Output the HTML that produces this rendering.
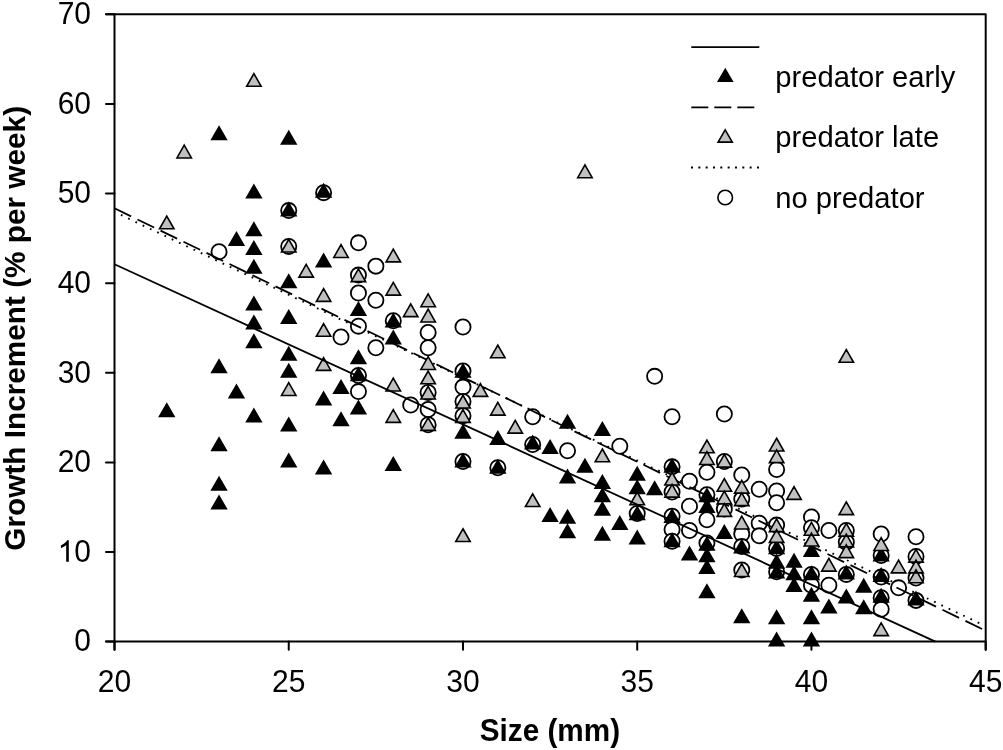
<!DOCTYPE html>
<html><head><meta charset="utf-8"><style>
html,body{margin:0;padding:0;background:#fff;}
svg{display:block;filter:grayscale(1);}
</style></head><body>
<svg width="1003" height="750" viewBox="0 0 1003 750"><rect width="1003" height="750" fill="#fff"/><line x1="114.5" y1="211.9" x2="982.1" y2="624.5" stroke="#000" stroke-width="1.9" stroke-dasharray="1.7 6.34" stroke-dashoffset="0.92"/><g fill="#fff" stroke="#000" stroke-width="1.8"><circle cx="219.04" cy="251.80" r="7.6"/><circle cx="288.74" cy="210.58" r="7.6"/><circle cx="288.74" cy="246.42" r="7.6"/><circle cx="323.59" cy="192.65" r="7.6"/><circle cx="341.01" cy="336.93" r="7.6"/><circle cx="358.44" cy="242.84" r="7.6"/><circle cx="358.44" cy="275.10" r="7.6"/><circle cx="358.44" cy="293.02" r="7.6"/><circle cx="358.44" cy="326.17" r="7.6"/><circle cx="358.44" cy="375.46" r="7.6"/><circle cx="358.44" cy="391.59" r="7.6"/><circle cx="375.86" cy="266.13" r="7.6"/><circle cx="375.86" cy="300.19" r="7.6"/><circle cx="375.86" cy="347.68" r="7.6"/><circle cx="393.28" cy="320.80" r="7.6"/><circle cx="410.71" cy="405.03" r="7.6"/><circle cx="428.13" cy="332.45" r="7.6"/><circle cx="428.13" cy="347.68" r="7.6"/><circle cx="428.13" cy="392.48" r="7.6"/><circle cx="428.13" cy="409.51" r="7.6"/><circle cx="428.13" cy="424.74" r="7.6"/><circle cx="462.98" cy="327.07" r="7.6"/><circle cx="462.98" cy="370.98" r="7.6"/><circle cx="462.98" cy="387.11" r="7.6"/><circle cx="462.98" cy="401.45" r="7.6"/><circle cx="462.98" cy="415.78" r="7.6"/><circle cx="462.98" cy="461.48" r="7.6"/><circle cx="497.83" cy="467.76" r="7.6"/><circle cx="532.68" cy="416.68" r="7.6"/><circle cx="532.68" cy="444.46" r="7.6"/><circle cx="567.52" cy="450.73" r="7.6"/><circle cx="619.80" cy="446.25" r="7.6"/><circle cx="637.22" cy="513.46" r="7.6"/><circle cx="654.64" cy="376.35" r="7.6"/><circle cx="672.07" cy="416.68" r="7.6"/><circle cx="672.07" cy="466.86" r="7.6"/><circle cx="672.07" cy="491.95" r="7.6"/><circle cx="672.07" cy="516.15" r="7.6"/><circle cx="672.07" cy="529.59" r="7.6"/><circle cx="672.07" cy="541.24" r="7.6"/><circle cx="689.49" cy="481.20" r="7.6"/><circle cx="689.49" cy="506.29" r="7.6"/><circle cx="689.49" cy="530.48" r="7.6"/><circle cx="706.92" cy="472.24" r="7.6"/><circle cx="706.92" cy="494.64" r="7.6"/><circle cx="706.92" cy="519.73" r="7.6"/><circle cx="706.92" cy="543.03" r="7.6"/><circle cx="724.34" cy="413.99" r="7.6"/><circle cx="724.34" cy="461.48" r="7.6"/><circle cx="724.34" cy="508.98" r="7.6"/><circle cx="741.76" cy="474.93" r="7.6"/><circle cx="741.76" cy="499.12" r="7.6"/><circle cx="741.76" cy="534.07" r="7.6"/><circle cx="741.76" cy="546.61" r="7.6"/><circle cx="741.76" cy="569.91" r="7.6"/><circle cx="759.19" cy="489.26" r="7.6"/><circle cx="776.61" cy="469.55" r="7.6"/><circle cx="776.61" cy="491.06" r="7.6"/><circle cx="776.61" cy="502.70" r="7.6"/><circle cx="759.19" cy="523.31" r="7.6"/><circle cx="759.19" cy="535.86" r="7.6"/><circle cx="776.61" cy="525.11" r="7.6"/><circle cx="776.61" cy="548.41" r="7.6"/><circle cx="776.61" cy="571.70" r="7.6"/><circle cx="811.46" cy="517.04" r="7.6"/><circle cx="811.46" cy="527.80" r="7.6"/><circle cx="811.46" cy="574.39" r="7.6"/><circle cx="811.46" cy="585.15" r="7.6"/><circle cx="828.88" cy="530.48" r="7.6"/><circle cx="828.88" cy="585.15" r="7.6"/><circle cx="846.31" cy="530.48" r="7.6"/><circle cx="846.31" cy="542.13" r="7.6"/><circle cx="846.31" cy="574.39" r="7.6"/><circle cx="881.16" cy="534.07" r="7.6"/><circle cx="881.16" cy="555.57" r="7.6"/><circle cx="881.16" cy="577.08" r="7.6"/><circle cx="881.16" cy="597.69" r="7.6"/><circle cx="881.16" cy="609.34" r="7.6"/><circle cx="898.58" cy="587.83" r="7.6"/><circle cx="916.00" cy="536.76" r="7.6"/><circle cx="916.00" cy="556.47" r="7.6"/><circle cx="916.00" cy="577.98" r="7.6"/><circle cx="916.00" cy="600.38" r="7.6"/></g><path fill="#000" d="M166.77 402.20L175.43 417.20L158.11 417.20ZM219.04 125.30L227.70 140.30L210.38 140.30ZM219.04 358.29L227.70 373.29L210.38 373.29ZM219.04 436.25L227.70 451.25L210.38 451.25ZM219.04 475.68L227.70 490.68L210.38 490.68ZM219.04 494.50L227.70 509.50L210.38 509.50ZM236.47 231.04L245.13 246.04L227.81 246.04ZM236.47 383.38L245.13 398.38L227.81 398.38ZM253.89 183.55L262.55 198.55L245.23 198.55ZM253.89 221.19L262.55 236.19L245.23 236.19ZM253.89 240.00L262.55 255.00L245.23 255.00ZM253.89 258.82L262.55 273.82L245.23 273.82ZM253.89 295.56L262.55 310.56L245.23 310.56ZM253.89 314.38L262.55 329.38L245.23 329.38ZM253.89 333.20L262.55 348.20L245.23 348.20ZM253.89 407.58L262.55 422.58L245.23 422.58ZM288.74 129.78L297.40 144.78L280.08 144.78ZM288.74 201.47L297.40 216.47L280.08 216.47ZM288.74 273.16L297.40 288.16L280.08 288.16ZM288.74 309.00L297.40 324.00L280.08 324.00ZM288.74 345.74L297.40 360.74L280.08 360.74ZM288.74 362.77L297.40 377.77L280.08 377.77ZM288.74 416.54L297.40 431.54L280.08 431.54ZM288.74 452.38L297.40 467.38L280.08 467.38ZM323.59 182.65L332.25 197.65L314.93 197.65ZM323.59 252.55L332.25 267.55L314.93 267.55ZM323.59 390.55L332.25 405.55L314.93 405.55ZM323.59 459.55L332.25 474.55L314.93 474.55ZM341.01 378.90L349.67 393.90L332.35 393.90ZM341.01 411.16L349.67 426.16L332.35 426.16ZM358.44 300.94L367.10 315.94L349.78 315.94ZM358.44 349.33L367.10 364.33L349.78 364.33ZM358.44 366.35L367.10 381.35L349.78 381.35ZM358.44 399.51L367.10 414.51L349.78 414.51ZM393.28 312.59L401.94 327.59L384.62 327.59ZM393.28 329.61L401.94 344.61L384.62 344.61ZM393.28 455.96L401.94 470.96L384.62 470.96ZM462.98 362.77L471.64 377.77L454.32 377.77ZM462.98 423.70L471.64 438.70L454.32 438.70ZM462.98 452.38L471.64 467.38L454.32 467.38ZM497.83 429.98L506.49 444.98L489.17 444.98ZM497.83 458.65L506.49 473.65L489.17 473.65ZM532.68 434.46L541.34 449.46L524.02 449.46ZM550.10 438.94L558.76 453.94L541.44 453.94ZM550.10 507.04L558.76 522.04L541.44 522.04ZM567.52 413.85L576.18 428.85L558.86 428.85ZM567.52 468.51L576.18 483.51L558.86 483.51ZM567.52 508.83L576.18 523.83L558.86 523.83ZM567.52 523.17L576.18 538.17L558.86 538.17ZM584.95 457.76L593.61 472.76L576.29 472.76ZM602.37 421.02L611.03 436.02L593.71 436.02ZM602.37 473.89L611.03 488.89L593.71 488.89ZM602.37 487.33L611.03 502.33L593.71 502.33ZM602.37 500.77L611.03 515.77L593.71 515.77ZM602.37 525.86L611.03 540.86L593.71 540.86ZM619.80 515.11L628.46 530.11L611.14 530.11ZM637.22 465.82L645.88 480.82L628.56 480.82ZM637.22 479.26L645.88 494.26L628.56 494.26ZM637.22 505.25L645.88 520.25L628.56 520.25ZM637.22 529.44L645.88 544.44L628.56 544.44ZM654.64 480.16L663.30 495.16L645.98 495.16ZM672.07 457.76L680.73 472.76L663.41 472.76ZM672.07 507.94L680.73 522.94L663.41 522.94ZM672.07 532.13L680.73 547.13L663.41 547.13ZM689.49 545.57L698.15 560.57L680.83 560.57ZM706.92 487.33L715.58 502.33L698.26 502.33ZM706.92 498.08L715.58 513.08L698.26 513.08ZM706.92 535.72L715.58 550.72L698.26 550.72ZM706.92 547.37L715.58 562.37L698.26 562.37ZM706.92 559.02L715.58 574.02L698.26 574.02ZM706.92 583.21L715.58 598.21L698.26 598.21ZM724.34 524.07L733.00 539.07L715.68 539.07ZM741.76 538.41L750.42 553.41L733.10 553.41ZM776.61 539.30L785.27 554.30L767.95 554.30ZM776.61 553.64L785.27 568.64L767.95 568.64ZM776.61 563.50L785.27 578.50L767.95 578.50ZM776.61 609.20L785.27 624.20L767.95 624.20ZM776.61 631.60L785.27 646.60L767.95 646.60ZM794.04 552.74L802.70 567.74L785.38 567.74ZM794.04 565.29L802.70 580.29L785.38 580.29ZM794.04 576.94L802.70 591.94L785.38 591.94ZM811.46 541.99L820.12 556.99L802.80 556.99ZM811.46 565.29L820.12 580.29L802.80 580.29ZM811.46 586.80L820.12 601.80L802.80 601.80ZM811.46 609.20L820.12 624.20L802.80 624.20ZM811.46 631.60L820.12 646.60L802.80 646.60ZM828.88 598.44L837.54 613.44L820.22 613.44ZM846.31 564.39L854.97 579.39L837.65 579.39ZM846.31 588.59L854.97 603.59L837.65 603.59ZM863.73 577.83L872.39 592.83L855.07 592.83ZM863.73 599.34L872.39 614.34L855.07 614.34ZM881.16 546.47L889.82 561.47L872.50 561.47ZM881.16 567.08L889.82 582.08L872.50 582.08ZM881.16 587.69L889.82 602.69L872.50 602.69ZM916.00 590.38L924.66 605.38L907.34 605.38ZM741.76 608.30L750.42 623.30L733.10 623.30Z"/><line x1="114.5" y1="208.3" x2="982.1" y2="629.0" stroke="#000" stroke-width="1.8" stroke-dasharray="18.45 7.11"/><path fill="#c0c0c0" stroke="#000" stroke-width="1.6" stroke-linejoin="miter" d="M166.77 216.02L174.00 228.77L159.55 228.77ZM184.20 145.23L191.42 157.98L176.97 157.98ZM253.89 73.54L261.12 86.29L246.67 86.29ZM288.74 239.32L295.97 252.07L281.51 252.07ZM288.74 382.69L295.97 395.44L281.51 395.44ZM306.16 264.41L313.39 277.16L298.94 277.16ZM323.59 288.60L330.81 301.35L316.36 301.35ZM323.59 323.55L330.81 336.30L316.36 336.30ZM323.59 357.60L330.81 370.35L316.36 370.35ZM341.01 244.69L348.24 257.44L333.79 257.44ZM358.44 268.89L365.66 281.64L351.21 281.64ZM393.28 249.17L400.51 261.92L386.06 261.92ZM393.28 282.33L400.51 295.08L386.06 295.08ZM393.28 378.21L400.51 390.96L386.06 390.96ZM393.28 409.58L400.51 422.33L386.06 422.33ZM410.71 303.84L417.93 316.59L403.48 316.59ZM428.13 293.98L435.36 306.73L420.91 306.73ZM428.13 309.21L435.36 321.96L420.91 321.96ZM428.13 356.71L435.36 369.46L420.91 369.46ZM428.13 371.04L435.36 383.79L420.91 383.79ZM428.13 386.28L435.36 399.03L420.91 399.03ZM428.13 417.64L435.36 430.39L420.91 430.39ZM462.98 395.24L470.21 407.99L455.75 407.99ZM462.98 409.58L470.21 422.33L455.75 422.33ZM462.98 528.76L470.21 541.51L455.75 541.51ZM480.40 383.59L487.63 396.34L473.18 396.34ZM497.83 345.06L505.05 357.81L490.60 357.81ZM497.83 402.41L505.05 415.16L490.60 415.16ZM515.25 420.33L522.48 433.08L508.03 433.08ZM532.68 493.81L539.90 506.56L525.45 506.56ZM602.37 449.00L609.60 461.75L595.15 461.75ZM637.22 492.02L644.45 504.77L630.00 504.77ZM672.07 472.30L679.29 485.05L664.84 485.05ZM672.07 484.40L679.29 497.15L664.84 497.15ZM706.92 440.04L714.14 452.79L699.69 452.79ZM706.92 451.69L714.14 464.44L699.69 464.44ZM724.34 454.38L731.57 467.13L717.12 467.13ZM724.34 478.57L731.57 491.32L717.12 491.32ZM724.34 491.12L731.57 503.87L717.12 503.87ZM724.34 503.67L731.57 516.42L717.12 516.42ZM741.76 480.37L748.99 493.12L734.54 493.12ZM741.76 492.91L748.99 505.66L734.54 505.66ZM741.76 516.21L748.99 528.96L734.54 528.96ZM741.76 563.70L748.99 576.45L734.54 576.45ZM776.61 438.25L783.84 451.00L769.39 451.00ZM776.61 449.90L783.84 462.65L769.39 462.65ZM794.04 486.64L801.26 499.39L786.81 499.39ZM776.61 518.90L783.84 531.65L769.39 531.65ZM776.61 529.65L783.84 542.40L769.39 542.40ZM811.46 522.48L818.69 535.23L804.24 535.23ZM811.46 533.24L818.69 545.99L804.24 545.99ZM828.88 558.33L836.11 571.08L821.66 571.08ZM846.31 349.54L853.53 362.29L839.08 362.29ZM846.31 501.87L853.53 514.62L839.08 514.62ZM846.31 523.38L853.53 536.13L839.08 536.13ZM846.31 534.13L853.53 546.88L839.08 546.88ZM846.31 544.89L853.53 557.64L839.08 557.64ZM881.16 537.72L888.38 550.47L873.93 550.47ZM881.16 622.85L888.38 635.60L873.93 635.60ZM898.58 560.12L905.80 572.87L891.35 572.87ZM916.00 549.37L923.23 562.12L908.78 562.12ZM916.00 560.12L923.23 572.87L908.78 572.87ZM916.00 569.98L923.23 582.73L908.78 582.73ZM584.95 164.94L592.17 177.69L577.72 177.69Z"/><line x1="114.5" y1="264.3" x2="935.4" y2="641.6" stroke="#000" stroke-width="1.8"/><g fill="none" stroke="#000" stroke-width="2" stroke-linecap="round" stroke-linejoin="round"><path d="M114.5 14.3V649.8M106 641.6H985.7M106 14.3H985.7V649.8"/><path d="M106 641.60H114.5 M106 551.99H114.5 M106 462.38H114.5 M106 372.77H114.5 M106 283.16H114.5 M106 193.55H114.5 M106 103.94H114.5 M106 14.33H114.5 M114.50 641.6V649.8 M288.74 641.6V649.8 M462.98 641.6V649.8 M637.22 641.6V649.8 M811.46 641.6V649.8 M985.70 641.6V649.8"/></g><g font-family='"Liberation Sans", sans-serif' font-size="30" fill="#000"><text transform="translate(91 651.40) scale(1 1.05)" text-anchor="end">0</text><path transform="translate(57.63 561.79) scale(0.014648 -0.014648)" d="M763 0H583V1147Q518 1085 413 1023Q307 961 223 930V1104Q374 1175 487 1276Q600 1377 647 1472H763Z"/><text transform="translate(74.32 561.79) scale(1 1.05)">0</text><text transform="translate(91 472.18) scale(1 1.05)" text-anchor="end">20</text><text transform="translate(91 382.57) scale(1 1.05)" text-anchor="end">30</text><text transform="translate(91 292.96) scale(1 1.05)" text-anchor="end">40</text><text transform="translate(91 203.35) scale(1 1.05)" text-anchor="end">50</text><text transform="translate(91 113.74) scale(1 1.05)" text-anchor="end">60</text><text transform="translate(91 24.13) scale(1 1.05)" text-anchor="end">70</text><text transform="translate(114.50 691.6) scale(1 1.05)" text-anchor="middle">20</text><text transform="translate(288.74 691.6) scale(1 1.05)" text-anchor="middle">25</text><text transform="translate(462.98 691.6) scale(1 1.05)" text-anchor="middle">30</text><text transform="translate(637.22 691.6) scale(1 1.05)" text-anchor="middle">35</text><text transform="translate(811.46 691.6) scale(1 1.05)" text-anchor="middle">40</text><text transform="translate(985.70 691.6) scale(1 1.05)" text-anchor="middle">45</text></g><text transform="translate(549.9 740.9) scale(1 1.05)" font-family='"Liberation Sans", sans-serif' font-size="29.7" font-weight="bold" text-anchor="middle">Size (mm)</text><text transform="translate(25.3 328.3) rotate(-90)" font-family='"Liberation Sans", sans-serif' font-size="29.75" font-weight="bold" text-anchor="middle">Growth Increment (% per week)</text><g fill="none" stroke="#000"><line x1="691.3" y1="47.1" x2="759.3" y2="47.1" stroke-width="1.8"/><line x1="691.3" y1="107.3" x2="760" y2="107.3" stroke-width="1.8" stroke-dasharray="17 6"/><line x1="691" y1="167.6" x2="760" y2="167.6" stroke-width="2" stroke-dasharray="2 5.33"/></g><path fill="#000" d="M725.30 67.70L733.61 82.10L716.99 82.10Z"/><path fill="#c0c0c0" stroke="#000" stroke-width="1.6" d="M725.20 129.80L732.30 142.10L718.10 142.10Z"/><circle cx="725.2" cy="197.5" r="7.3" fill="#fff" stroke="#000" stroke-width="1.6"/><g font-family='"Liberation Sans", sans-serif' font-size="29.2" fill="#000"><text x="775.3" y="87">predator early</text><text x="775.3" y="146.7">predator late</text><text x="775.3" y="207.5">no predator</text></g></svg>
</body></html>
